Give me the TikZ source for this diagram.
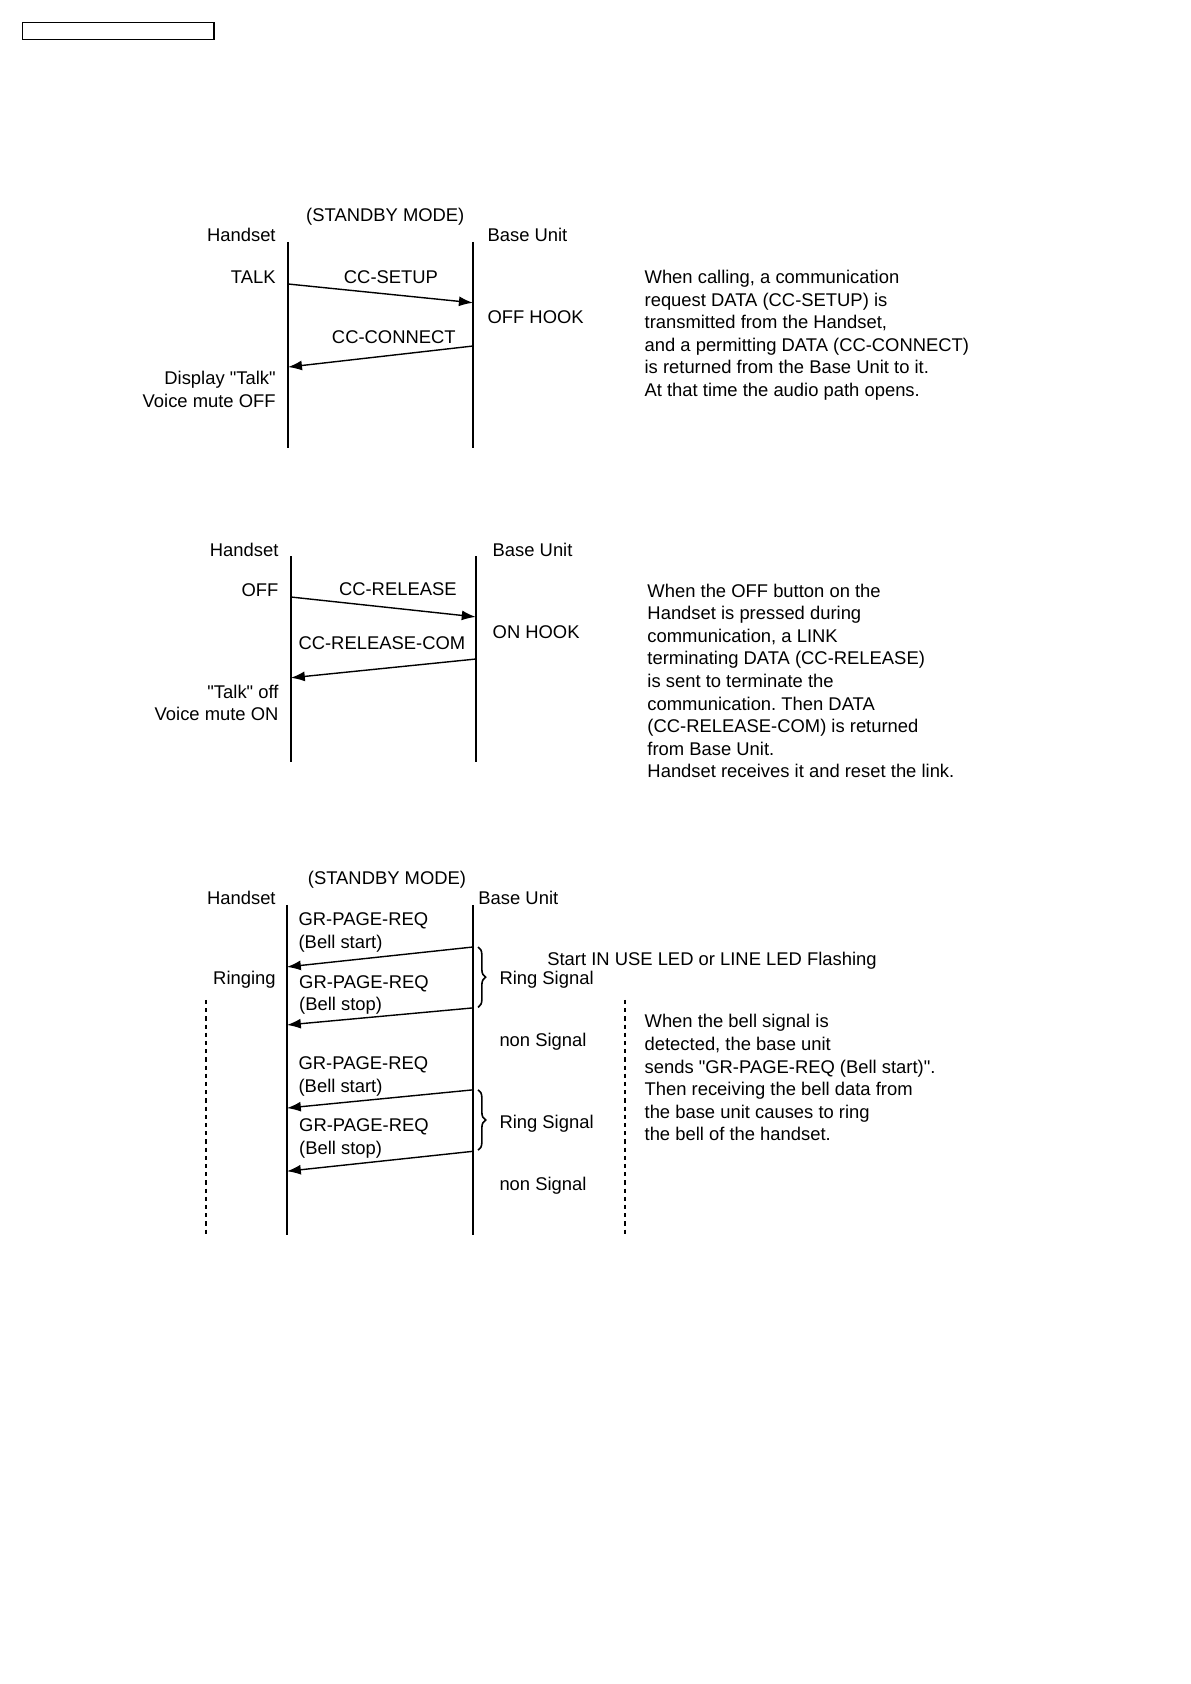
\documentclass[tikz,border=0pt]{standalone}
\usepackage{fontspec}
\setmainfont{Liberation Sans}
\usetikzlibrary{arrows.meta,decorations.pathreplacing}
\frenchspacing

\begin{document}
\begin{tikzpicture}[>={Latex[length=7pt,width=5pt]}, font=\fontsize{9.2}{11.3}\selectfont,
		every node/.style={inner sep=0pt},
		life/.style={line width=1pt},
		msg/.style={->, line width=0.7pt},
		dots/.style={line width=1pt, dash pattern=on 2.1pt off 2pt},
		ringbrace/.style={decorate, decoration={brace, amplitude=3.8pt}, line width=0.8pt},
		note/.style={align=left, anchor=north west}]
			\useasboundingbox (0,0) rectangle (20.91,-29.59);
			\draw[line width=0.6pt] (0.39,-0.39) rectangle (3.76,-0.70);

			% calling
			\node (mode1) at (6.77,-3.80) {(STANDBY MODE)};
			\node[anchor=east] (hs1) at (4.85,-4.13) {Handset};
			\node[anchor=west] (bu1) at (8.56,-4.13) {Base Unit};
			\coordinate (hs1top) at (5.06,-4.25);
			\coordinate (hs1bot) at (5.06,-7.87);
			\coordinate (bu1top) at (8.31,-4.25);
			\coordinate (bu1bot) at (8.31,-7.87);
			\draw[life] (hs1top) -- (hs1bot);
			\draw[life] (bu1top) -- (bu1bot);
			\node[anchor=east] (talk) at (4.85,-4.87) {TALK};
			\coordinate (setupA) at (5.06,-4.99);
			\coordinate (setupB) at (8.31,-5.32);
			\draw[msg] (setupA) -- (setupB);
			\node (setup) at (6.87,-4.87) {CC-SETUP};
			\node[anchor=west] (offhook) at (8.56,-5.57) {OFF HOOK};
			\coordinate (connA) at (8.31,-6.08);
			\coordinate (connB) at (5.06,-6.45);
			\draw[msg] (connA) -- (connB);
			\node (connect) at (6.92,-5.92) {CC-CONNECT};
			\node[anchor=east, align=right] (disp) at (4.85,-6.84) {Display \textquotedbl Talk\textquotedbl\\Voice mute OFF};
			\node[note] (note1) at (11.32,-4.74) {When calling, a communication\\request DATA (CC-SETUP) is\\transmitted from the Handset,\\and a permitting DATA (CC-CONNECT)\\is returned from the Base Unit to it.\\At that time the audio path opens.};

			% release
			\node[anchor=east] (hs2) at (4.90,-9.67) {Handset};
			\node[anchor=west] (bu2) at (8.65,-9.67) {Base Unit};
			\coordinate (hs2top) at (5.11,-9.77);
			\coordinate (hs2bot) at (5.11,-13.39);
			\coordinate (bu2top) at (8.36,-9.77);
			\coordinate (bu2bot) at (8.36,-13.39);
			\draw[life] (hs2top) -- (hs2bot);
			\draw[life] (bu2top) -- (bu2bot);
			\node[anchor=east] (off) at (4.90,-10.37) {OFF};
			\coordinate (relA) at (5.11,-10.49);
			\coordinate (relB) at (8.36,-10.84);
			\draw[msg] (relA) -- (relB);
			\node (release) at (6.99,-10.35) {CC-RELEASE};
			\node[anchor=west] (onhook) at (8.65,-11.11) {ON HOOK};
			\coordinate (comA) at (8.36,-11.58);
			\coordinate (comB) at (5.11,-11.91);
			\draw[msg] (comA) -- (comB);
			\node (relcom) at (6.71,-11.30) {CC-RELEASE-COM};
			\node[anchor=east, align=right] (talkoff) at (4.90,-12.35) {\textquotedbl Talk\textquotedbl{} off\\Voice mute ON};
			\node[note] (note2) at (11.37,-10.25) {When the OFF button on the\\Handset is pressed during\\communication, a LINK\\terminating DATA (CC-RELEASE)\\is sent to terminate the\\communication. Then DATA\\(CC-RELEASE-COM) is returned\\from Base Unit.\\Handset receives it and reset the link.};

			% ringing
			\node (mode3) at (6.80,-15.45) {(STANDBY MODE)};
			\node[anchor=east] (hs3) at (4.85,-15.78) {Handset};
			\node[anchor=west] (bu3) at (8.40,-15.78) {Base Unit};
			\coordinate (hs3top) at (5.04,-15.90);
			\coordinate (hs3bot) at (5.04,-21.70);
			\coordinate (bu3top) at (8.31,-15.90);
			\coordinate (bu3bot) at (8.31,-21.70);
			\draw[life] (hs3top) -- (hs3bot);
			\draw[life] (bu3top) -- (bu3bot);
			\node[anchor=west, align=left] (page1) at (5.24,-16.38) {GR-PAGE-REQ\\(Bell start)};
			\coordinate (pg1A) at (8.31,-16.64);
			\coordinate (pg1B) at (5.04,-16.99);
			\draw[msg] (pg1A) -- (pg1B);
			\node[anchor=west, align=left] (page2) at (5.25,-17.48) {GR-PAGE-REQ\\(Bell stop)};
			\coordinate (pg2A) at (8.31,-17.71);
			\coordinate (pg2B) at (5.04,-18.01);
			\draw[msg] (pg2A) -- (pg2B);
			\node[anchor=west, align=left] (page3) at (5.24,-18.91) {GR-PAGE-REQ\\(Bell start)};
			\coordinate (pg3A) at (8.31,-19.15);
			\coordinate (pg3B) at (5.04,-19.47);
			\draw[msg] (pg3A) -- (pg3B);
			\node[anchor=west, align=left] (page4) at (5.25,-20.00) {GR-PAGE-REQ\\(Bell stop)};
			\coordinate (pg4A) at (8.31,-20.23);
			\coordinate (pg4B) at (5.04,-20.58);
			\draw[msg] (pg4A) -- (pg4B);
			\coordinate (br1top) at (8.40,-16.64);
			\coordinate (br1bot) at (8.40,-17.70);
			\coordinate (br2top) at (8.40,-19.15);
			\coordinate (br2bot) at (8.40,-20.21);
			\draw[ringbrace] (br1top) -- (br1bot);
			\draw[ringbrace] (br2top) -- (br2bot);
			\node[anchor=west] (flash) at (9.61,-16.89) {Start IN USE LED or LINE LED Flashing};
			\node[anchor=east] (ringing) at (4.85,-17.22) {Ringing};
			\node[anchor=west] (ring1) at (8.77,-17.22) {Ring Signal};
			\node[anchor=west] (non1) at (8.77,-18.31) {non Signal};
			\node[anchor=west] (ring2) at (8.77,-19.75) {Ring Signal};
			\node[anchor=west] (non2) at (8.77,-20.84) {non Signal};
			\coordinate (dotLtop) at (3.62,-17.57);
			\coordinate (dotLbot) at (3.62,-21.70);
			\coordinate (dotRtop) at (10.98,-17.57);
			\coordinate (dotRbot) at (10.98,-21.70);
			\draw[dots] (dotLtop) -- (dotLbot);
			\draw[dots] (dotRtop) -- (dotRbot);
			\node[note] (note3) at (11.32,-17.82) {When the bell signal is\\detected, the base unit\\sends \textquotedbl GR-PAGE-REQ (Bell start)\textquotedbl.\\Then receiving the bell data from\\the base unit causes to ring\\the bell of the handset.};
		\end{tikzpicture}
\end{document}
